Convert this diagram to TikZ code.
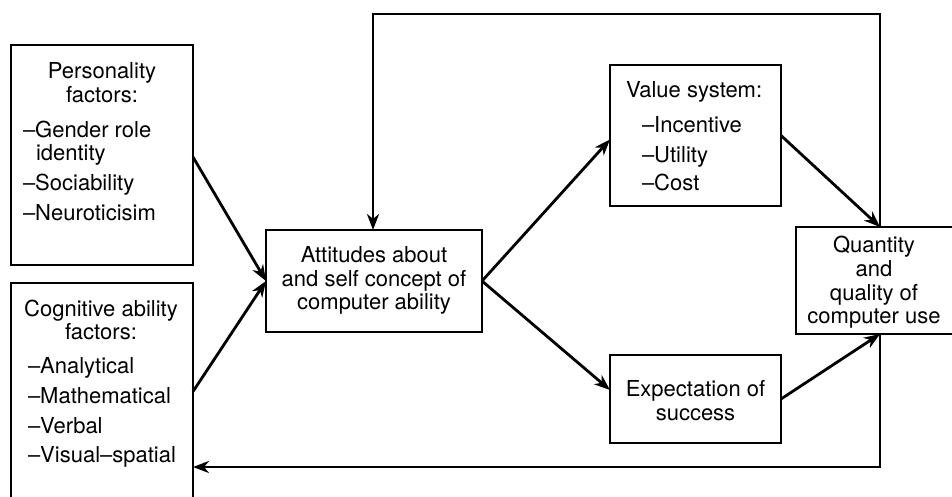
\documentclass[tikz,border=0pt]{standalone}
\usepackage{fontspec}
\setmainfont{TeX Gyre Heros}
\usetikzlibrary{arrows.meta}
\begin{document}
\begin{tikzpicture}[x=1pt,y=-1pt,
  box/.style={draw, line width=2.8pt, inner sep=0pt, outer sep=0pt},
  lbl/.style={inner sep=0pt, outer sep=0pt, font=\fontsize{22}{24}\selectfont},
  arr/.style={-{Stealth[length=16pt,width=12pt,inset=5pt]}, line width=2.8pt}]
\useasboundingbox (0,0) rectangle (952,496);
\clip (0,0) rectangle (952,496);
% boxes
\node[box, minimum width=182pt, minimum height=220pt] (pers) at (102,155) {};
\node[box, minimum width=182pt, minimum height=227pt] (cog) at (102,396.5) {};
\node[box, minimum width=216pt, minimum height=102pt] (att) at (374,281) {};
\node[box, minimum width=171pt, minimum height=141pt] (val) at (695.5,135.5) {};
\node[box, minimum width=171pt, minimum height=88pt] (exp) at (695.5,399) {};
\node[box, minimum width=158pt, minimum height=107pt] (qty) at (875,280.5) {};
% texts
\node[lbl, anchor=base] (p1) at (102,78) {Personality};
\node[lbl, anchor=base] (p2) at (102,102) {factors:};
\node[lbl, anchor=base west] (p3) at (23,137) {–Gender role};
\node[lbl, anchor=base west] (p4) at (36,160) {identity};
\node[lbl, anchor=base west] (p5) at (23,190) {–Sociability};
\node[lbl, anchor=base west] (p6) at (23,220) {–Neuroticisim};
\node[lbl, anchor=base] (c1) at (101,316) {Cognitive ability};
\node[lbl, anchor=base] (c2) at (101,339) {factors:};
\node[lbl, anchor=base west] (c3) at (28,373) {–Analytical};
\node[lbl, anchor=base west] (c4) at (28,403) {–Mathematical};
\node[lbl, anchor=base west] (c5) at (28,433) {–Verbal};
\node[lbl, anchor=base west] (c6) at (28,462) {–Visual–spatial};
\node[lbl, anchor=base] (a1) at (374,262) {Attitudes about};
\node[lbl, anchor=base] (a2) at (374,286) {and self concept of};
\node[lbl, anchor=base] (a3) at (374,309) {computer ability};
\node[lbl, anchor=base west] (v1) at (626,97) {Value system:};
\node[lbl, anchor=base west] (v2) at (642,132) {–Incentive};
\node[lbl, anchor=base west] (v3) at (642,162) {–Utility};
\node[lbl, anchor=base west] (v4) at (642,190) {–Cost};
\node[lbl, anchor=base] (q1) at (874,252) {Quantity};
\node[lbl, anchor=base] (q2) at (874,276) {and};
\node[lbl, anchor=base] (q3) at (874,300) {quality of};
\node[lbl, anchor=base] (q4) at (874,323) {computer use};
\node[lbl, anchor=base] (e1) at (695.5,396) {Expectation of};
\node[lbl, anchor=base] (e2) at (695.5,420) {success};
% helper coordinates
\coordinate (vx) at (880,0);
\coordinate (top) at (0,14);
\coordinate (bot) at (0,467);
% connectors
\draw[arr] ([yshift=-2pt]pers.east) -- (att.west);
\draw[arr] ([yshift=5pt]cog.east) -- (att.west);
\draw[arr] (att.east) -- ([yshift=-4pt]val.west);
\draw[arr] (att.east) -- ([yshift=9pt]exp.west);
\draw[arr] (val.east) -- (qty.north -| vx);
\draw[arr] (exp.east) -- (qty.south -| vx);
\draw[arr] (qty.north -| vx) -- (top -| vx) -| ([xshift=-1pt]att.north);
\draw[arr] (qty.south -| vx) -- (bot -| vx) -- (bot -| cog.east);
\end{tikzpicture}
\end{document}
